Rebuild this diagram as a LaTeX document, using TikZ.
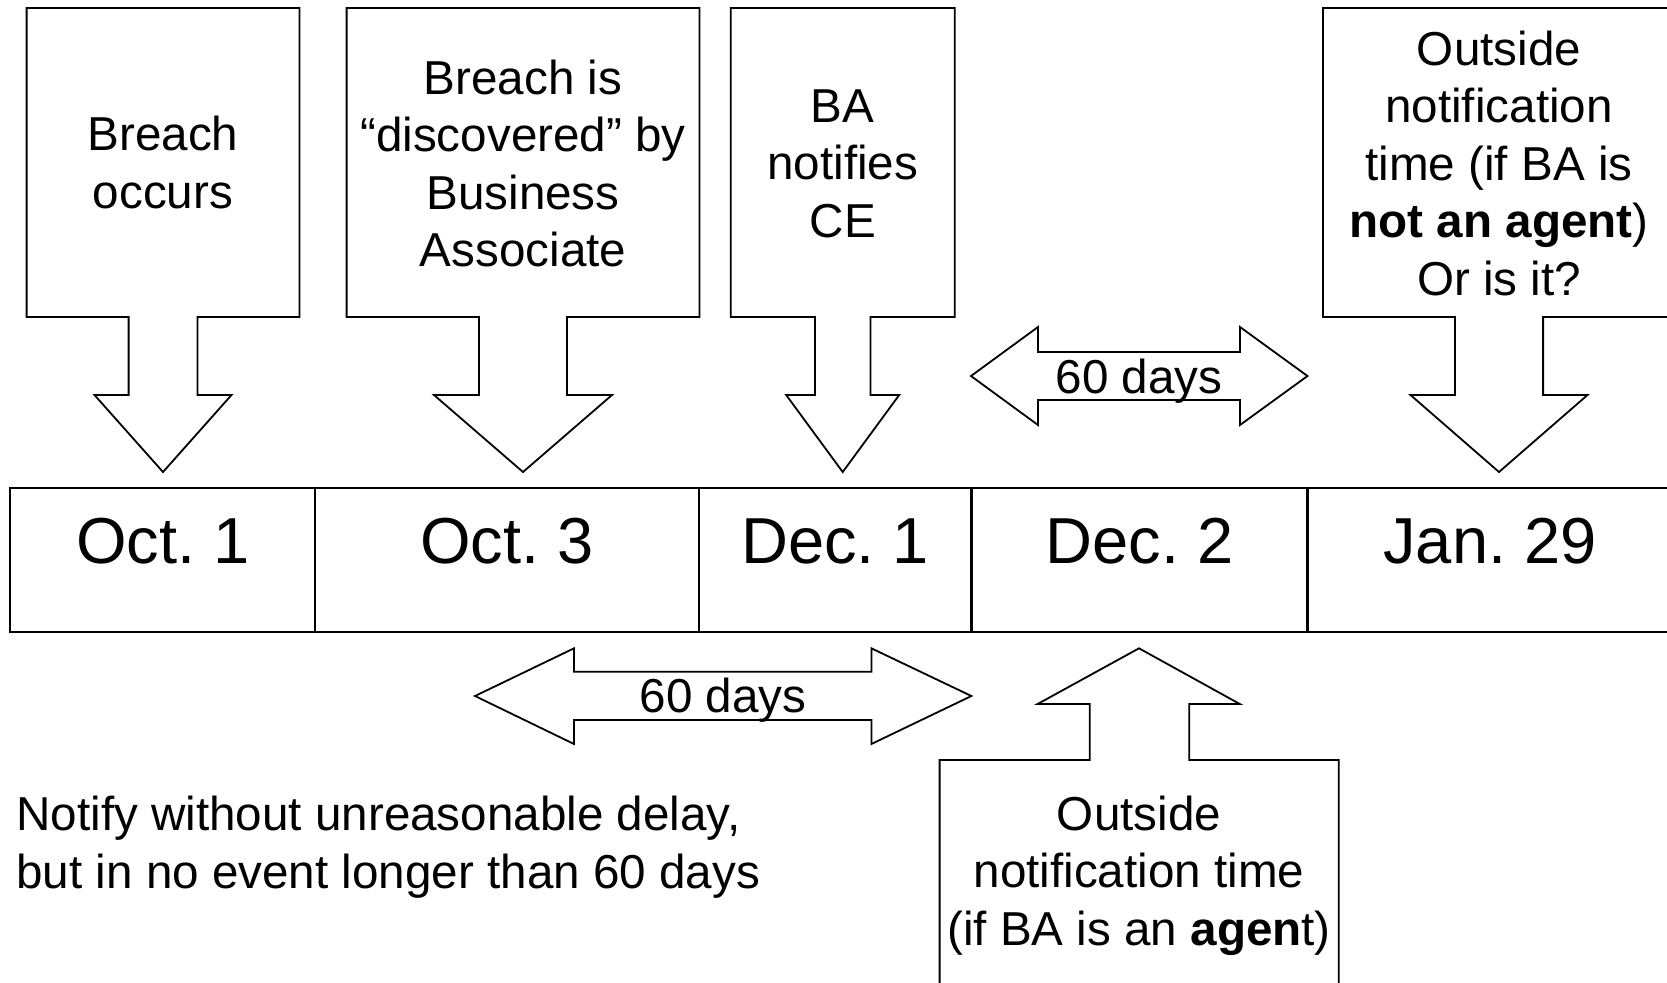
\documentclass[tikz,border=0pt]{standalone}
\usepackage{fontspec}
\setmainfont{Liberation Sans}
\frenchspacing
\usepackage{tikz}

% down arrow with a box on top: centre, half box, half shaft, half head
\newcommand{\downcallout}[4]{%
  \draw[callout] ({#1-#2},8) -- ({#1+#2},8) -- ({#1+#2},317) -- ({#1+#3},317)
    -- ({#1+#3},395) -- ({#1+#4},395) -- (#1,472) -- ({#1-#4},395)
    -- ({#1-#3},395) -- ({#1-#3},317) -- ({#1-#2},317) -- cycle;}

\begin{document}
\begin{tikzpicture}[x=0.5pt,y=-0.5pt, % 1 unit = 1 pixel
    callout/.style={draw=black,line width=0.9pt,line join=miter},
    txt/.style={inner sep=0pt,align=center,anchor=base,
      font=\fontsize{23.8}{28.75}\selectfont},
    date/.style={inner sep=0pt,anchor=base,font=\fontsize{32.5}{39}\selectfont}]
  \useasboundingbox (0,0) rectangle (1667,982);
  \clip (0,0) rectangle (1667,982);

  % boxes on top (text placed at the baseline of the last line)
  \downcallout{163}{136.4}{34.4}{68.5}
  \downcallout{523}{176.4}{44}{89}
  \downcallout{842.7}{112}{27.8}{56.5}
  \downcallout{1499}{176.1}{44.1}{88.5}
  \node[txt] (occurs) at (163,208) {Breach\\occurs};
  \node[txt] (found) at (523,266.7) {Breach is\\“discovered” by\\Business\\Associate};
  \node[txt] (notifies) at (842.7,237) {BA\\notifies\\CE};
  \node[txt] (late) at (1499,295) {Outside\\notification\\time (if BA is\\\textbf{not an agent})\\Or is it?};

  % timeline
  \draw[line width=1.2pt] (10,488) rectangle (1675,632);
  \foreach \x in {315.2,699,971.4,1307.5}
    \draw[line width=1.2pt] (\x,488) -- (\x,632);
  \node[date] (oct1) at (162.7,563.3) {Oct. 1};
  \node[date] (oct3) at (507,563.3) {Oct. 3};
  \node[date] (dec1) at (835,563.3) {Dec. 1};
  \node[date] (dec2) at (1139.5,563.3) {Dec. 2};
  \node[date] (jan29) at (1490,563.3) {Jan. 29};

  % 60 days
  \draw[callout] (971,376) -- (1038,327) -- (1038,352) -- (1240,352) -- (1240,327)
    -- (1307.5,376) -- (1240,425) -- (1240,400) -- (1038,400) -- (1038,425) -- cycle;
  \node[txt] (days1) at (1139,393) {60 days};
  \draw[callout] (475,696) -- (574,648.3) -- (574,671.7) -- (871.4,671.7) -- (871.4,648.3)
    -- (971.4,696) -- (871.4,744) -- (871.4,720) -- (574,720) -- (574,744) -- cycle;
  \node[txt] (days2) at (723,712.7) {60 days};

  % box underneath
  \draw[callout] (1139,648.3) -- (1239.8,704) -- (1189.2,704) -- (1189.2,760)
    -- (1338.8,760) -- (1338.8,995) -- (939.6,995) -- (939.6,760) -- (1089.7,760)
    -- (1089.7,704) -- (1037.6,704) -- cycle;
  \node[txt] (agent) at (1139,945) {Outside\\notification time\\(if BA is an \textbf{agen}t)};

  \node[txt,align=left,anchor=base west] (rule) at (16,888)
    {Notify without unreasonable delay,\\but in no event longer than 60 days};
\end{tikzpicture}
\end{document}
